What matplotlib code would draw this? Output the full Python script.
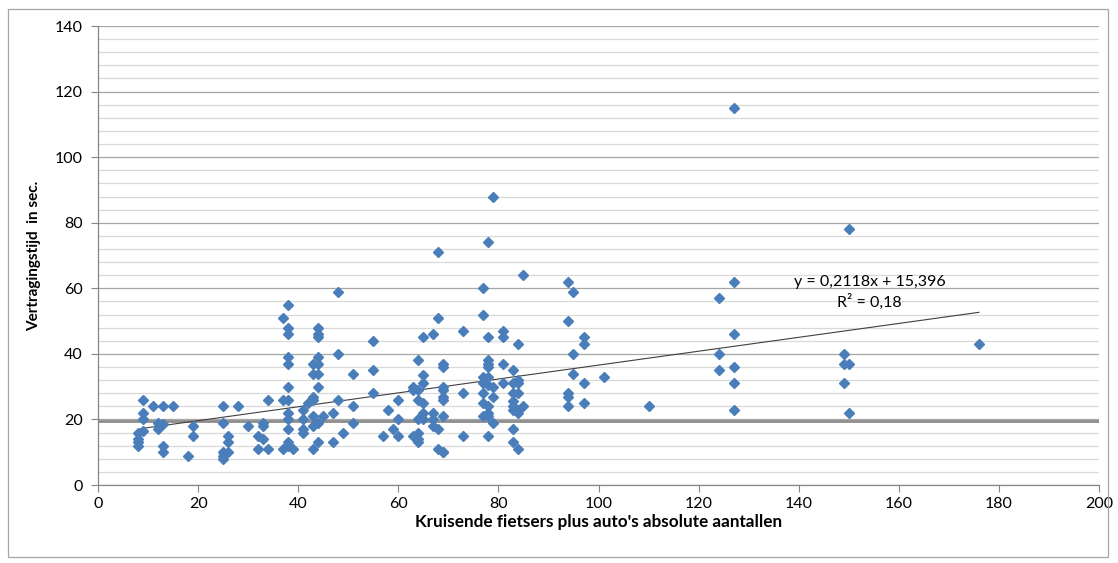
import matplotlib
matplotlib.use("Agg")
import matplotlib.pyplot as plt
from matplotlib.ticker import MultipleLocator
from matplotlib.patches import Rectangle
import numpy as np

plt.rcParams['font.family'] = ['Lato', 'DejaVu Sans']

# Data: crossing cyclists + cars (x) vs delay time in seconds (y)
x_vals = [
    8, 8, 8, 8,
    9, 9, 9, 9,
    11, 12, 12, 13, 13, 13, 13, 15,
    18, 19, 19,
    25, 25, 25, 25, 25, 26, 26, 26, 28, 30,
    32, 32, 33, 33, 33, 34, 34,
    37, 37, 37,
    38, 38, 38, 38, 38, 38, 38, 38, 38, 38, 38, 38,
    39, 41, 41, 41, 41, 42, 43, 43, 43, 43, 43, 43, 43,
    44, 44, 44, 44, 44, 44, 44, 44, 44, 45, 47, 47, 48, 48, 48, 49,
    51, 51, 51, 55, 55, 55, 57, 58, 59, 60, 60, 60,
    63, 63, 63, 64, 64, 64, 64, 64, 64, 64,
    65, 65, 65, 65, 65, 65, 67, 67, 67, 67, 68, 68, 68, 68,
    69, 69, 69, 69, 69, 69, 69, 69, 69,
    73, 73, 73,
    77, 77, 77, 77, 77, 77, 77,
    78, 78, 78, 78, 78, 78, 78, 78, 78, 78, 78,
    79, 79, 79, 79,
    81, 81, 81, 81,
    83, 83, 83, 83, 83, 83, 83, 83,
    84, 84, 84, 84, 84, 84, 84,
    85, 85,
    94, 94, 94, 94, 94, 95, 95, 95, 97, 97, 97, 97, 101, 110,
    124, 124, 124, 127, 127, 127, 127, 127, 127,
    149, 149, 149, 150, 150, 150, 176,
]
y_vals = [
    16, 14, 13, 12,
    26, 22, 20, 16.5,
    24, 19, 17, 24, 18.5, 12, 10, 24,
    9, 18, 15,
    24, 19, 10, 9, 8, 15, 13, 10, 24, 18,
    15, 11, 19, 18, 14, 26, 11,
    51, 26, 11,
    55, 48, 46, 39, 37, 30, 26, 22, 20, 17, 13, 12,
    11, 23, 20, 17, 16, 25, 37, 34, 27, 26, 21, 18, 11,
    48, 46, 45, 39, 37, 34, 30, 19, 13, 21, 22, 13, 59, 40, 26, 16,
    34, 24, 19, 44, 35, 28, 15, 23, 17, 26, 20, 15,
    30, 15, 29, 38, 29, 26, 20, 16, 14, 13,
    45, 33.5, 31, 25, 22, 20, 46, 22, 20, 18, 71, 51, 17, 11,
    37, 36, 30, 29, 27, 26, 21, 10, 10,
    47, 28, 15,
    60, 52, 33, 31, 28, 25, 21,
    74, 45, 38, 37, 36, 33, 30.5, 24, 22, 21, 15,
    88, 30, 27, 19,
    47, 45, 37, 31,
    35, 31, 28, 25.5, 24, 23, 17, 13,
    43, 32, 31, 28, 23, 22, 11,
    64, 24,
    62, 50, 28, 27, 24, 59, 40, 34, 45, 43, 31, 25, 33, 24,
    57, 40, 35, 115, 62, 46, 36, 31, 23,
    40, 37, 31, 78, 37, 22, 43,
]

slope, intercept = 0.2118, 15.396
trend_x = [8.5, 176]
ref_level = 19.5

fig = plt.figure(figsize=(11.18, 5.63), dpi=100)
ax = fig.add_axes([0.0877, 0.1385, 0.8953, 0.8153])

ax.set_xlim(0, 200)
ax.set_ylim(0, 140)
ax.xaxis.set_major_locator(MultipleLocator(20))
ax.yaxis.set_major_locator(MultipleLocator(20))
ax.yaxis.set_minor_locator(MultipleLocator(4))

ax.grid(True, which='major', axis='y', color='#A6A6A6', lw=0.9, zorder=0)
ax.grid(True, which='minor', axis='y', color='#D9D9D9', lw=0.9, zorder=0)
ax.set_axisbelow(True)

ax.axhline(ref_level, color='#8C8C8C', lw=2.0, zorder=1)

tx = np.array(trend_x)
ax.plot(tx, slope * tx + intercept, color='#404040', lw=0.8, zorder=2)

ax.plot(x_vals, y_vals, linestyle='none', marker='D', markersize=5,
        color='#4A7EBB', markeredgecolor='#4A7EBB', zorder=3)

ax.text(154.2, 61.9, 'y = 0,2118x + 15,396', ha='center', va='center',
        fontsize=11.5, color='#000000')
ax.text(154.2, 55.8, 'R² = 0,18', ha='center', va='center',
        fontsize=11.5, color='#000000')

for s in ['top', 'right']:
    ax.spines[s].set_visible(False)
for s in ['left', 'bottom']:
    ax.spines[s].set_color('#868686')
    ax.spines[s].set_linewidth(0.9)

ax.tick_params(axis='both', which='major', length=5, color='#868686',
               labelsize=11.5, labelcolor='#000000', direction='out')
ax.tick_params(axis='y', which='major', pad=6)
ax.tick_params(axis='y', which='minor', length=0)

ax.set_xlabel("Kruisende fietsers plus auto's absolute aantallen",
              fontsize=12.3, fontweight='bold', labelpad=2)
ax.set_ylabel('Vertragingstijd  in sec.', fontsize=11, fontweight='bold',
              labelpad=10)

fig.patches.append(Rectangle((8 / 1118, 1 - 557 / 563), 1100 / 1118, 548 / 563,
                             transform=fig.transFigure, fill=False,
                             edgecolor='#A6A6A6', lw=0.9))

fig.savefig('out.png', dpi=100)
